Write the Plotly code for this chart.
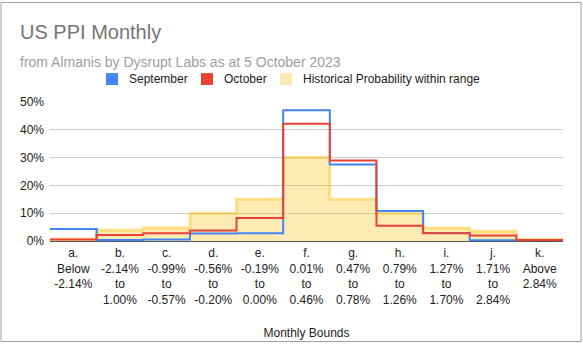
import plotly.graph_objects as go

categories = ["a.<br>Below<br>-2.14%", "b.<br>-2.14%<br>to<br>1.00%", "c.<br>-0.99%<br>to<br>-0.57%",
              "d.<br>-0.56%<br>to<br>-0.20%", "e.<br>-0.19%<br>to<br>0.00%", "f.<br>0.01%<br>to<br>0.46%",
              "g.<br>0.47%<br>to<br>0.78%", "h.<br>0.79%<br>to<br>1.26%", "i.<br>1.27%<br>to<br>1.70%",
              "j.<br>1.71%<br>to<br>2.84%", "k.<br>Above<br>2.84%"]
september = [4.3, 0.4, 0.5, 2.7, 2.8, 47.0, 27.5, 10.8, 2.9, 0.3, 0.3]
october = [0.5, 2.2, 2.8, 3.8, 8.3, 42.2, 29.0, 5.5, 2.8, 2.0, 0.4]
historical = [0.7, 4.0, 4.8, 10.0, 15.0, 30.0, 15.0, 10.0, 4.7, 3.5, 0.6]
series_names = ["September", "October", "Historical Probability within range"]

n = len(categories)
edges = list(range(n + 1))
centers = [i + 0.5 for i in range(n)]

def stepped(vals):
    return [v / 100 for v in vals] + [vals[-1] / 100]

fig = go.Figure()
fig.add_trace(go.Scatter(x=edges, y=stepped(historical), mode="lines", line_shape="hv",
                         name=series_names[2],
                         line=dict(color="rgba(251,188,4,0.4)", width=3),
                         fill="tozeroy", fillcolor="rgba(251,188,4,0.3)", showlegend=False))
fig.add_trace(go.Scatter(x=edges, y=stepped(september), mode="lines", line_shape="hv",
                         name=series_names[0],
                         line=dict(color="#4285F4", width=2), showlegend=False))
fig.add_trace(go.Scatter(x=edges, y=stepped(october), mode="lines", line_shape="hv",
                         name=series_names[1],
                         line=dict(color="#EA4335", width=2), showlegend=False))

W, H = 583, 349
L, R, T, B = 50, 20, 102, 106
pw, ph = W - L - R, H - T - B

def px(x):
    return (x - L) / pw

def py(y):
    return (H - B - y) / ph

fig.update_layout(
    width=W, height=H,
    margin=dict(l=L, r=R, t=T, b=B),
    paper_bgcolor="white", plot_bgcolor="white",
    font=dict(family="Liberation Sans, Arial, sans-serif", size=12, color="#222"),
    xaxis=dict(range=[0, n], tickvals=centers, ticktext=categories, showgrid=False,
               zeroline=False, showline=False, ticks="", tickfont=dict(size=12, color="#222"),
               ticklabelstandoff=3,
               title=dict(text="Monthly Bounds", font=dict(size=12, color="#222"), standoff=22),
               fixedrange=True),
    yaxis=dict(range=[0, 0.5], tickvals=[0, 0.1, 0.2, 0.3, 0.4, 0.5], tickformat=".0%",
               showgrid=True, gridcolor="#cccccc", zeroline=True, zerolinecolor="#555",
               zerolinewidth=1, tickfont=dict(size=12, color="#222"), ticks="",
               ticklabelstandoff=5),
    showlegend=False,
)

# manual legend (square swatches like the original)
legend_items = [(series_names[0], "#4285F4", 106, 127),
                (series_names[1], "#EA4335", 201, 222),
                (series_names[2], "#FDE9B4", 280, 301)]
for name, col, sx, tx in legend_items:
    fig.add_shape(type="rect", xref="paper", yref="paper", x0=px(sx), x1=px(sx + 12),
                  y0=py(84.7), y1=py(72.7), line=dict(width=0), fillcolor=col)
    fig.add_annotation(text=name, xref="paper", yref="paper", x=px(tx), y=py(79),
                       xanchor="left", yanchor="middle", showarrow=False,
                       font=dict(size=12, color="#222"))

fig.add_annotation(text="US PPI Monthly", xref="paper", yref="paper", x=px(18), y=py(31),
                   xanchor="left", yanchor="middle", showarrow=False,
                   font=dict(size=20, color="#757575"))
fig.add_annotation(text="from Almanis by Dysrupt Labs as at 5 October 2023", xref="paper", yref="paper",
                   x=px(18), y=py(61), xanchor="left", yanchor="middle", showarrow=False,
                   font=dict(size=14, color="#9e9e9e"))
fig.add_shape(type="rect", xref="paper", yref="paper", x0=px(1), x1=px(581), y0=py(345), y1=py(1),
              line=dict(color="#9e9e9e", width=1), layer="below")

fig.write_html("out.html")
